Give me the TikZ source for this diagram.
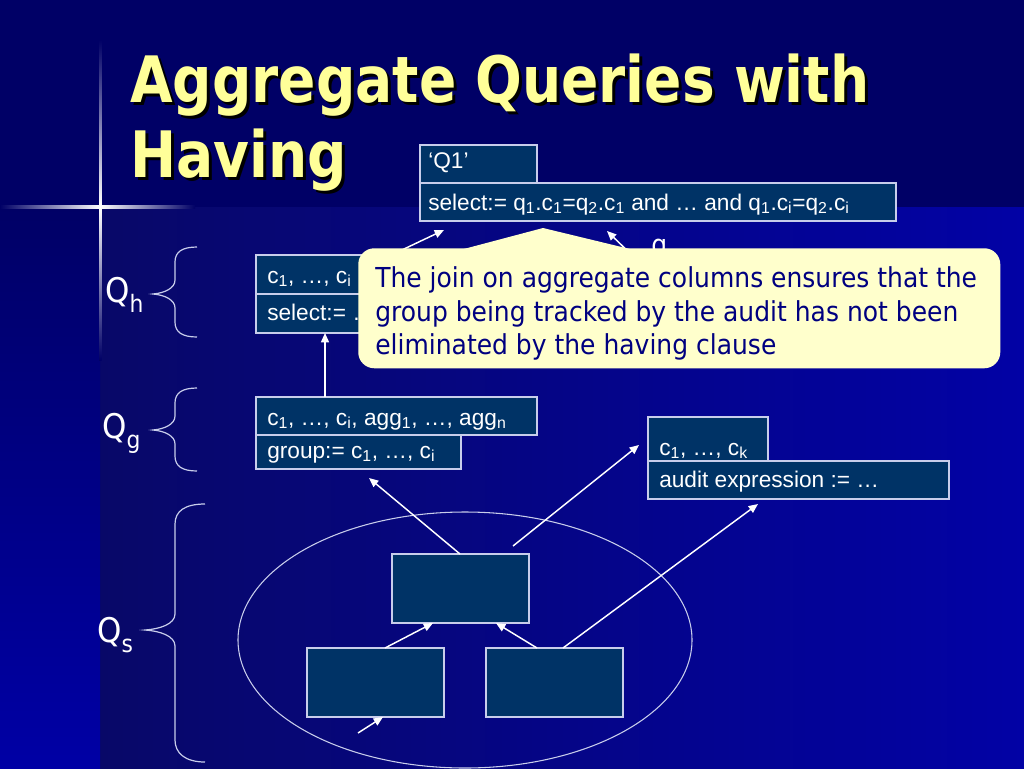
\documentclass[tikz,border=0pt]{standalone}
\usepackage{fontspec}
\usepackage{graphicx}
\setmainfont{Liberation Sans}
\newfontfamily\tahoma{DejaVu Sans}
\usetikzlibrary{arrows.meta}
\definecolor{navy}{RGB}{0,0,102}
\definecolor{lowleft}{RGB}{8,8,104}
\definecolor{lowright}{RGB}{2,2,165}
\definecolor{stripbot}{RGB}{0,0,165}
\definecolor{glow}{RGB}{50,110,245}
\definecolor{boxfill}{RGB}{0,51,102}
\definecolor{boxline}{RGB}{200,205,235}
\definecolor{callfill}{RGB}{255,255,204}
\definecolor{calltext}{RGB}{0,0,128}
\definecolor{titlecol}{RGB}{255,255,153}
\definecolor{bracecol}{RGB}{200,205,235}
\begin{document}
\begin{tikzpicture}[x=0.75pt, y=-0.75pt,
  box/.style={draw=boxline, line width=1.1pt, fill=boxfill, inner sep=0pt, outer sep=0pt, anchor=north west},
  sz/.style 2 args={minimum width=#1*0.75pt, minimum height=#2*0.75pt},
  btxt/.style={anchor=base west, inner sep=0pt, text=white, font=\fontsize{17}{20}\selectfont},
  ctxt/.style={anchor=base west, inner sep=0pt, text=calltext, font=\tahoma\fontsize{20.6}{25}\selectfont},
  qlab/.style={anchor=base west, inner sep=0pt, text=white, font=\tahoma\fontsize{25.5}{30}\selectfont},
  ttl/.style={anchor=base west, inner sep=0pt, font=\tahoma\bfseries\fontsize{48}{56}\selectfont},
  arr/.style={draw=white, line width=1.1pt, -{Triangle[length=7pt,width=6pt]}},
  brc/.style={draw=bracecol, line width=0.9pt},
  ell/.style={draw=boxline, line width=0.8pt}
]
\useasboundingbox (0,0) rectangle (1024,768);
% background
\fill[navy] (0,0) rectangle (1024,768);
\shade[left color=lowleft, right color=lowright] (100,207) rectangle (1024,768);
\shade[top color=navy, bottom color=stripbot] (0,207) rectangle (100,768);
\shade[top color=navy, middle color=glow, bottom color=white] (99,40) rectangle (101.5,207);
\shade[top color=white, middle color=glow, bottom color=navy] (99,207) rectangle (101.5,360);
\shade[left color=navy, middle color=glow, right color=white] (0,205.8) rectangle (100,208.4);
\shade[left color=white, middle color=glow, right color=navy] (100,205.8) rectangle (195,208.4);

% title
\node[ttl, text=black] (title1s) at (133,105) {\scalebox{0.86}[1]{Aggregate Queries with}};
\node[ttl, text=titlecol] (title1) at (130,102) {\scalebox{0.86}[1]{Aggregate Queries with}};
\node[ttl, text=black] (title2s) at (133,180) {\scalebox{0.86}[1]{Having}};
\node[ttl, text=titlecol] (title2) at (130,177) {\scalebox{0.86}[1]{Having}};

% braces
\draw[brc] (197,247) .. controls (182,247) and (175,252) .. (175,262) -- (175,280)
  .. controls (175,288) and (165,293) .. (153,294) .. controls (165,295) and (175,300) .. (175,308)
  -- (175,322) .. controls (175,332) and (182,337) .. (197,337);
\draw[brc] (197,388) .. controls (182,388) and (175,393) .. (175,403) -- (175,416)
  .. controls (175,424) and (165,429) .. (153,430) .. controls (165,431) and (175,436) .. (175,444)
  -- (175,456) .. controls (175,466) and (182,471) .. (197,471);
\draw[brc] (205,504) .. controls (185,504) and (175,511) .. (175,524) -- (175,614)
  .. controls (175,624) and (160,629) .. (145,630) .. controls (160,631) and (175,636) .. (175,646)
  -- (175,740) .. controls (175,753) and (185,762) .. (205,762);

% Q labels
\node[qlab] (qh) at (105,302) {\scalebox{0.91}[1]{Q\raisebox{-7.5pt}{\fontsize{18}{18}\selectfont h}}};
\node[qlab] (qg) at (102,438) {\scalebox{0.91}[1]{Q\raisebox{-7.5pt}{\fontsize{18}{18}\selectfont g}}};
\node[qlab] (qs) at (97,642) {\scalebox{0.91}[1]{Q\raisebox{-7.5pt}{\fontsize{18}{18}\selectfont s}}};

% ellipse and inner boxes
\draw[ell] (465,640) ellipse [x radius=170.25pt, y radius=96pt];
\node[box, sz={137}{69}] (t) at (392,554) {};
\node[box, sz={137}{69}] (bl) at (307,648) {};
\node[box, sz={137}{69}] (br) at (486,648) {};

% Q1 boxes
\node[box, sz={476}{38}] (q1s) at (420,183) {};
\node[box, sz={117}{38}] (q1h) at (420,145) {};
\node[btxt] (q1htx) at (428,168) {‘Q1’};
\node[btxt] (q1stx) at (428,210) {select:= q\textsubscript{1}.c\textsubscript{1}=q\textsubscript{2}.c\textsubscript{1} and … and q\textsubscript{1}.c\textsubscript{i}=q\textsubscript{2}.c\textsubscript{i}};

% Qh boxes
\node[box, sz={150}{39}] (qh1) at (256,255) {};
\node[box, sz={150}{39}] (qh2) at (256,294) {};
\node[btxt] (qh1tx) at (267,283) {c\textsubscript{1}, …, c\textsubscript{i}};
\node[btxt] (qh2tx) at (267,320) {select:= …};

% Qg boxes
\node[box, sz={281}{38}] (qg1) at (256,397) {};
\node[box, sz={205}{34}] (qg2) at (256,435) {};
\node[btxt] (qg1tx) at (267,425) {c\textsubscript{1}, …, c\textsubscript{i}, agg\textsubscript{1}, …, agg\textsubscript{n}};
\node[btxt] (qg2tx) at (267,458) {group:= c\textsubscript{1}, …, c\textsubscript{i}};

% audit boxes
\node[box, sz={120}{44}] (au1) at (648,417) {};
\node[box, sz={301}{38}] (au2) at (648,461) {};
\node[btxt] (au1tx) at (659,455) {c\textsubscript{1}, …, c\textsubscript{k}};
\node[btxt] (au2tx) at (659,487) {audit expression := …};

% connector end points
\coordinate (b0) at (385,258);
\coordinate (b1) at (444,230);
\coordinate (c0) at (637,260);
\coordinate (c1) at (607,231);
\coordinate (d1) at (369,478);
\coordinate (e0) at (513,546);
\coordinate (e1) at (639,445);
\coordinate (f1) at (758,504);
\coordinate (i0) at (358,733);

% arrows
\draw[arr] ([xshift=69*0.75pt]qg1.north west) -- ([xshift=69*0.75pt]qh2.south west);
\draw[arr] ([xshift=68*0.75pt]t.north west) -- (d1);
\draw[arr] (e0) -- (e1);
\draw[arr] ([xshift=77*0.75pt]br.north west) -- (f1);
\draw[arr] ([xshift=78*0.75pt]bl.north west) -- ([xshift=41*0.75pt]t.south west);
\draw[arr] ([xshift=51*0.75pt]br.north west) -- ([xshift=104*0.75pt]t.south west);
\draw[arr] (i0) -- ([xshift=76*0.75pt]bl.south west);
\draw[arr] (b0) -- (b1);
\draw[arr] (c0) -- (c1);
\node[anchor=base west, inner sep=0pt, text=white, font=\tahoma\fontsize{20.6}{25}\selectfont] (qlbl) at (651,254) {\scalebox{0.91}[1]{q}};

% callout
\node[fill=callfill, rounded corners=12pt, anchor=north west, inner sep=0pt, sz={642}{120}] (callout) at (358,248) {};
\fill[callfill] (460,250) -- (543,228) -- (634,250) -- cycle;
\node[ctxt] (cl1) at (375,287) {\scalebox{0.91}[1]{The join on aggregate columns ensures that the}};
\node[ctxt] (cl2) at (375,321) {\scalebox{0.91}[1]{group being tracked by the audit has not been}};
\node[ctxt] (cl3) at (375,354) {\scalebox{0.91}[1]{eliminated by the having clause}};
\end{tikzpicture}
\end{document}
